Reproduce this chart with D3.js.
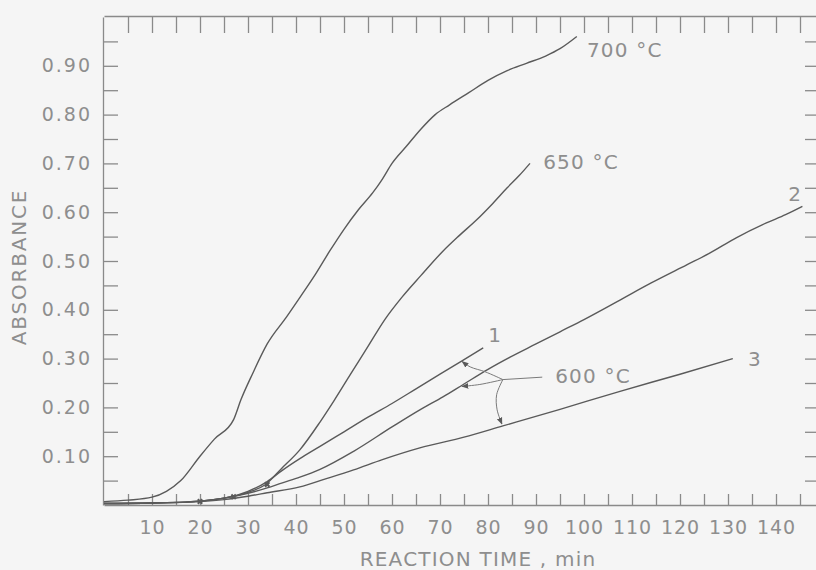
<!DOCTYPE html>
<html>
<head>
<meta charset="utf-8">
<script src="https://cdn.jsdelivr.net/npm/d3@7"></script>
<style>
  html, body { margin: 0; padding: 0; background: #f5f5f5; }
  svg { display: block; }
  text { font-family: "DejaVu Sans", sans-serif; fill: #8e8e8e; }
</style>
</head>
<body>
<div id="chart"></div>
<script>
const WIDTH = 816;
const HEIGHT = 570;
const LINE_COLOR = "#5a5a5a";
const AXIS_COLOR = "#8a8a8a";

// --------------- Data ---------------
const t700 = [0, 5, 10, 13, 16, 20, 23, 27, 28.5, 31, 34, 38, 41, 44, 47, 50, 53, 56, 58, 60, 63, 66, 69, 72, 76, 80, 84, 88, 92, 95, 98.5];
const a700 = [0.007, 0.010, 0.016, 0.028, 0.05, 0.10, 0.135, 0.175, 0.215, 0.27, 0.33, 0.385, 0.428, 0.472, 0.52, 0.565, 0.605, 0.64, 0.668, 0.70, 0.735, 0.77, 0.80, 0.82, 0.845, 0.87, 0.89, 0.905, 0.92, 0.935, 0.96];

const t650 = [0, 10, 20, 25, 30, 33.5, 37, 40.8, 45, 48, 51.3, 55, 58.5, 62, 66, 70.6, 74, 77.7, 81, 84, 86.5, 88.75];
const a650 = [0.003, 0.004, 0.008, 0.014, 0.026, 0.041, 0.075, 0.113, 0.17, 0.215, 0.267, 0.325, 0.38, 0.425, 0.47, 0.52, 0.552, 0.585, 0.618, 0.65, 0.675, 0.70];

// 600 °C, runs 1, 2 and 3
const t1 = [0, 10, 20, 25, 30, 34, 37, 40.8, 45, 50, 55, 60, 65, 70, 74.5, 79];
const a1 = [0.003, 0.004, 0.008, 0.014, 0.028, 0.048, 0.07, 0.095, 0.12, 0.15, 0.18, 0.208, 0.238, 0.268, 0.295, 0.322];

const t2 = [0, 10, 20, 25, 30, 34, 37, 40.8, 45, 52, 60, 65.8, 70.7, 75, 80, 84.6, 90, 95, 100, 107.5, 114, 121.4, 126, 131.8, 138, 142, 145.5];
const a2 = [0.003, 0.004, 0.008, 0.014, 0.024, 0.035, 0.045, 0.057, 0.073, 0.11, 0.16, 0.195, 0.222, 0.248, 0.278, 0.303, 0.33, 0.355, 0.38, 0.42, 0.455, 0.492, 0.515, 0.548, 0.578, 0.595, 0.612];

const t3 = [0, 10, 20, 25, 30, 34, 40.8, 46, 52, 58, 65.8, 75, 83.1, 95, 107.5, 120, 131];
const a3 = [0.003, 0.004, 0.007, 0.011, 0.018, 0.025, 0.037, 0.053, 0.072, 0.093, 0.117, 0.139, 0.162, 0.196, 0.233, 0.268, 0.30];

// small crosses near the baseline
const markT = [20, 27, 34];
const markA = [0.007, 0.017, 0.042];

// curve labels: text, time, absorbance
const labelText = ["700 °C", "650 °C", "600 °C", "1", "2", "3"];
const labelT = [100.6, 91.5, 94, 81.5, 144, 135.6];
const labelA = [0.918, 0.688, 0.25, 0.335, 0.622, 0.284];
const labelAnchor = ["start", "start", "start", "middle", "middle", "middle"];

// leader lines from the "600 °C" label (time, absorbance)
const leadT = [91.3, 83.1];
const leadA = [0.262, 0.257];
const branch1T = [83.1, 79.4, 76.3, 74.6];
const branch1A = [0.257, 0.273, 0.283, 0.294];
const branch2T = [83.1, 78.3, 74.6];
const branch2A = [0.257, 0.247, 0.243];
const branch3T = [83.1, 81.8, 81.9, 82.9];
const branch3A = [0.257, 0.226, 0.195, 0.166];

const xTicks = d3.range(5, 150, 5);
const yTicks = d3.range(1, 20).map(i => +(i * 0.05).toFixed(2));

// --------------- Scales ---------------
const x = d3.scaleLinear().domain([0, 150]).range([104, 824]);
const y = d3.scaleLinear().domain([0, 1]).range([505, 17]);

const svg = d3
  .select("#chart")
  .append("svg")
  .attr("width", WIDTH)
  .attr("height", HEIGHT);

svg.append("rect")
  .attr("width", WIDTH)
  .attr("height", HEIGHT)
  .attr("fill", "#f5f5f5");

svg.append("defs")
  .append("marker")
  .attr("id", "arrow")
  .attr("viewBox", "0 0 10 10")
  .attr("refX", 9)
  .attr("refY", 5)
  .attr("markerWidth", 7)
  .attr("markerHeight", 7)
  .attr("orient", "auto")
  .append("path")
  .attr("d", "M0,1L10,5L0,9z")
  .attr("fill", LINE_COLOR);

// --------------- Axes ---------------
function styleAxis(g, spacing) {
  g.selectAll("path, line").attr("stroke", AXIS_COLOR).attr("stroke-width", 1.3);
  g.selectAll("text")
    .attr("fill", "#8e8e8e")
    .attr("font-size", 19)
    .attr("letter-spacing", spacing || 1)
    .attr("font-family", "DejaVu Sans, sans-serif");
}

// bottom: ticks pointing up
svg.append("g")
  .attr("transform", `translate(0,${y(0)})`)
  .call(
    d3.axisBottom(x)
      .tickValues(xTicks)
      .tickSize(-11)
      .tickSizeOuter(0)
      .tickPadding(16)
      .tickFormat(d => (d % 10 === 0 ? d : ""))
  )
  .call(styleAxis, 1);

// top: ticks pointing down, no labels
svg.append("g")
  .attr("transform", `translate(0,16)`)
  .call(d3.axisTop(x).tickValues(xTicks).tickSize(-17).tickSizeOuter(0).tickFormat(""))
  .call(styleAxis);

// left: ticks pointing right
svg.append("g")
  .attr("transform", `translate(103,0)`)
  .call(
    d3.axisLeft(y)
      .tickValues(yTicks)
      .tickSize(-15)
      .tickSizeOuter(0)
      .tickPadding(11)
      .tickFormat(d => (Math.round(d * 100) % 10 === 0 ? d3.format(".2f")(d) : ""))
  )
  .call(styleAxis, 2);

// right: short ticks pointing left, frame just off the picture
svg.append("g")
  .attr("transform", `translate(817,0)`)
  .call(d3.axisRight(y).tickValues(yTicks).tickSize(-12).tickSizeOuter(0).tickFormat(""))
  .call(styleAxis);

// axis titles
svg.append("text")
  .attr("x", 478)
  .attr("y", 566)
  .attr("text-anchor", "middle")
  .attr("font-size", 20)
  .attr("letter-spacing", 1.2)
  .text("REACTION TIME , min");

svg.append("text")
  .attr("transform", "translate(26,267) rotate(-90)")
  .attr("text-anchor", "middle")
  .attr("font-size", 20)
  .attr("letter-spacing", 1.8)
  .text("ABSORBANCE");

// --------------- Curves ---------------
const line = d3.line()
  .x(d => x(d[0]))
  .y(d => y(d[1]))
  .curve(d3.curveMonotoneX);

const zip = (ts, as) => ts.map((t, i) => [t, as[i]]);

const series = [zip(t700, a700), zip(t650, a650), zip(t1, a1), zip(t2, a2), zip(t3, a3)];

svg.append("g")
  .selectAll("path")
  .data(series)
  .enter()
  .append("path")
  .attr("d", line)
  .attr("fill", "none")
  .attr("stroke", LINE_COLOR)
  .attr("stroke-width", 1.4);

// little crosses on the baseline
svg.append("g")
  .selectAll("path")
  .data(zip(markT, markA))
  .enter()
  .append("path")
  .attr("transform", d => `translate(${x(d[0])},${y(d[1])}) rotate(45)`)
  .attr("d", d3.symbol(d3.symbolCross, 22))
  .attr("fill", LINE_COLOR);

// --------------- Labels and leaders ---------------
svg.append("g")
  .selectAll("text")
  .data(labelText)
  .enter()
  .append("text")
  .attr("x", (d, i) => x(labelT[i]))
  .attr("y", (d, i) => y(labelA[i]))
  .attr("text-anchor", (d, i) => labelAnchor[i])
  .attr("font-size", 20)
  .attr("letter-spacing", 1.2)
  .text(d => d);

const leader = d3.line()
  .x(d => x(d[0]))
  .y(d => y(d[1]))
  .curve(d3.curveCatmullRom);

svg.append("path")
  .attr("d", leader(zip(leadT, leadA)))
  .attr("fill", "none")
  .attr("stroke", "#7a7a7a")
  .attr("stroke-width", 1);

svg.append("g")
  .selectAll("path")
  .data([zip(branch1T, branch1A), zip(branch2T, branch2A), zip(branch3T, branch3A)])
  .enter()
  .append("path")
  .attr("d", leader)
  .attr("fill", "none")
  .attr("stroke", "#7a7a7a")
  .attr("stroke-width", 1)
  .attr("marker-end", "url(#arrow)");
</script>
</body>
</html>
